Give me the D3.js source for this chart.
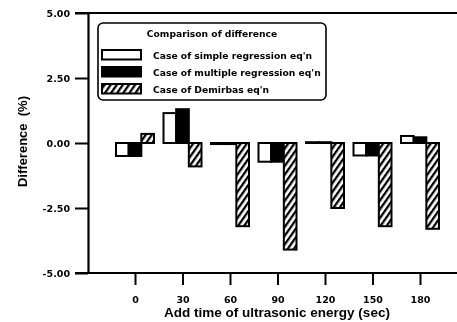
<!DOCTYPE html>
<html>
<head>
<meta charset="utf-8">
<script src="https://cdn.jsdelivr.net/npm/d3@7"></script>
<style>
  body { margin: 0; background: #fff; }
  svg { display: block; will-change: transform; }
</style>
</head>
<body>
<svg id="chart" width="457" height="322"></svg>
<script>
// Difference (%) for each ultrasonic addition time and each equation
const categories = ["0", "30", "60", "90", "120", "150", "180"];
const seriesNames = [
  "Case of simple regression eq'n",
  "Case of multiple regression eq'n",
  "Case of Demirbas eq'n"
];
const simpleReg   = [-0.50, 1.15, -0.04, -0.72, 0.03, -0.48, 0.27];
const multipleReg = [-0.50, 1.30, -0.04, -0.72, 0.03, -0.48, 0.22];
const demirbas    = [0.35, -0.90, -3.20, -4.10, -2.50, -3.20, -3.30];
const yTicks = [5, 2.5, 0, -2.5, -5];
const legendTitle = "Comparison of difference";
const xTitle = "Add time of ultrasonic energy (sec)";
const yTitle = "Difference  (%)";

const series = [simpleReg, multipleReg, demirbas];

const svg = d3.select("#chart");
const wideFont = "'DejaVu Sans', sans-serif";
const textFont = "'Liberation Sans', Arial, sans-serif";

// Hatch pattern for the Demirbas bars
const defs = svg.append("defs");
const pat = defs.append("pattern")
  .attr("id", "hatch")
  .attr("patternUnits", "userSpaceOnUse")
  .attr("width", 5).attr("height", 5)
  .attr("patternTransform", "rotate(35)");
pat.append("rect").attr("width", 5).attr("height", 5).attr("fill", "#fff");
pat.append("rect").attr("width", 2.3).attr("height", 5).attr("fill", "#000");
const fills = ["#fff", "#000", "url(#hatch)"];

// Scales
const y = d3.scaleLinear().domain([-5, 5]).range([273, 13]);
const x = d3.scalePoint().domain(categories).range([135, 420]);
const sub = d3.scaleBand().domain([0, 1, 2]).range([-19, 19]);

// Frame lines: top and bottom
svg.append("line").attr("x1", 75).attr("x2", 457).attr("y1", y(5)).attr("y2", y(5))
  .attr("stroke", "#000").attr("stroke-width", 2);
svg.append("line").attr("x1", 75).attr("x2", 457).attr("y1", y(-5)).attr("y2", y(-5))
  .attr("stroke", "#000").attr("stroke-width", 2);

// Y axis
const yAxis = svg.append("g").attr("transform", "translate(88,0)")
  .call(d3.axisLeft(y).tickValues(yTicks).tickFormat(d => d.toFixed(2))
    .tickSize(13).tickSizeOuter(0).tickPadding(5));
yAxis.select(".domain").attr("stroke-width", 2.2);
yAxis.selectAll(".tick line").attr("stroke-width", 2);
yAxis.selectAll("text").attr("font-family", wideFont).attr("font-weight", "bold")
  .attr("font-size", 9.5).attr("fill", "#000");

// X axis
const xAxis = svg.append("g").attr("transform", `translate(0,${y(-5)})`)
  .call(d3.axisBottom(x).tickSize(12).tickSizeOuter(0).tickPadding(11));
xAxis.select(".domain").remove();
xAxis.selectAll(".tick line").attr("stroke-width", 2);
xAxis.selectAll("text").attr("font-family", wideFont).attr("font-weight", "bold")
  .attr("font-size", 9.5).attr("fill", "#000");

// Bars
const groups = svg.append("g").selectAll("g").data(categories).join("g")
  .attr("transform", c => `translate(${x(c)},0)`);
groups.selectAll("rect")
  .data((c, ci) => series.map((s, si) => ({ si, v: s[ci] })))
  .join("rect")
  .attr("x", d => sub(d.si))
  .attr("width", sub.bandwidth())
  .attr("y", d => y(Math.max(0, d.v)))
  .attr("height", d => Math.abs(y(d.v) - y(0)))
  .attr("fill", d => fills[d.si])
  .attr("stroke", "#000")
  .attr("stroke-width", 2);

// Legend
const lg = svg.append("g");
lg.append("rect").attr("x", 98).attr("y", 23).attr("width", 228).attr("height", 77)
  .attr("rx", 5).attr("fill", "#fff").attr("stroke", "#000").attr("stroke-width", 1.6);
lg.append("text").attr("x", 212).attr("y", 37).attr("text-anchor", "middle")
  .attr("font-family", wideFont).attr("font-weight", "bold").attr("font-size", 9.2)
  .attr("fill", "#000")
  .text(legendTitle);
const rows = lg.selectAll("g.row").data(seriesNames).join("g")
  .attr("class", "row")
  .attr("transform", (d, i) => `translate(0,${50 + i * 17})`);
rows.append("rect").attr("x", 102).attr("y", 0).attr("width", 39).attr("height", 9.5)
  .attr("fill", (d, i) => fills[i]).attr("stroke", "#000").attr("stroke-width", 2);
rows.append("text").attr("x", 153).attr("y", 8.5)
  .attr("font-family", wideFont).attr("font-weight", "bold").attr("font-size", 9.2)
  .attr("fill", "#000")
  .text(d => d);

// Axis titles
svg.append("text").attr("x", 277).attr("y", 317).attr("text-anchor", "middle")
  .attr("font-family", textFont).attr("font-weight", "bold").attr("font-size", 13.5)
  .attr("fill", "#000")
  .text(xTitle);
svg.append("text").attr("transform", "translate(27,141.5) rotate(-90)")
  .attr("text-anchor", "middle")
  .style("white-space", "pre")
  .attr("font-family", textFont).attr("font-weight", "bold").attr("font-size", 13)
  .attr("fill", "#000")
  .text(yTitle);
</script>
</body>
</html>
